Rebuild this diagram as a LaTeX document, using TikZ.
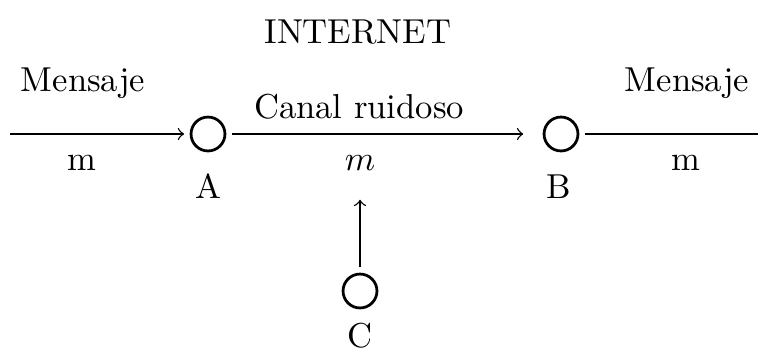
\documentclass[tikz,border=0pt]{standalone}
\begin{document}
\begin{tikzpicture}[x=0.289pt,y=-0.289pt,
  station/.style={circle,draw,line width=0.8pt,minimum size=9.8pt,inner sep=0pt,outer sep=2pt},
  lbl/.style={anchor=base,inner sep=0pt},
  wire/.style={line width=0.4pt}]
\useasboundingbox (0,0) rectangle (758,356);
\node[station] (A) at (208,134) {};
\node[station] (B) at (561,134) {};
\node[station] (C) at (360,291) {};
\coordinate (in) at (10,134);
\coordinate (out) at (765,134);
\coordinate (cin) at (360,198);
\draw[wire,->] (in) -- (A);
\draw[wire,->,shorten >=4pt] (A) -- (B);
\draw[wire,->] (B) -- (out);
\draw[wire,->,shorten >=0.5pt] (C) -- (cin);
\node[lbl] (internet) at (358,43) {INTERNET};
\node[lbl] (canal) at (359,118) {Canal ruidoso};
\node[lbl] (mmid) at (360,170) {$m$};
\node[lbl] (mens1) at (83,91) {Mensaje};
\node[lbl] (m1) at (82,170) {m};
\node[lbl] (mens2) at (687,91) {Mensaje};
\node[lbl] (m2) at (686,170) {m};
\node[lbl] (la) at (208,198) {A};
\node[lbl] (lb) at (559,198) {B};
\node[lbl] (lc) at (360,347) {C};
\end{tikzpicture}
\end{document}
